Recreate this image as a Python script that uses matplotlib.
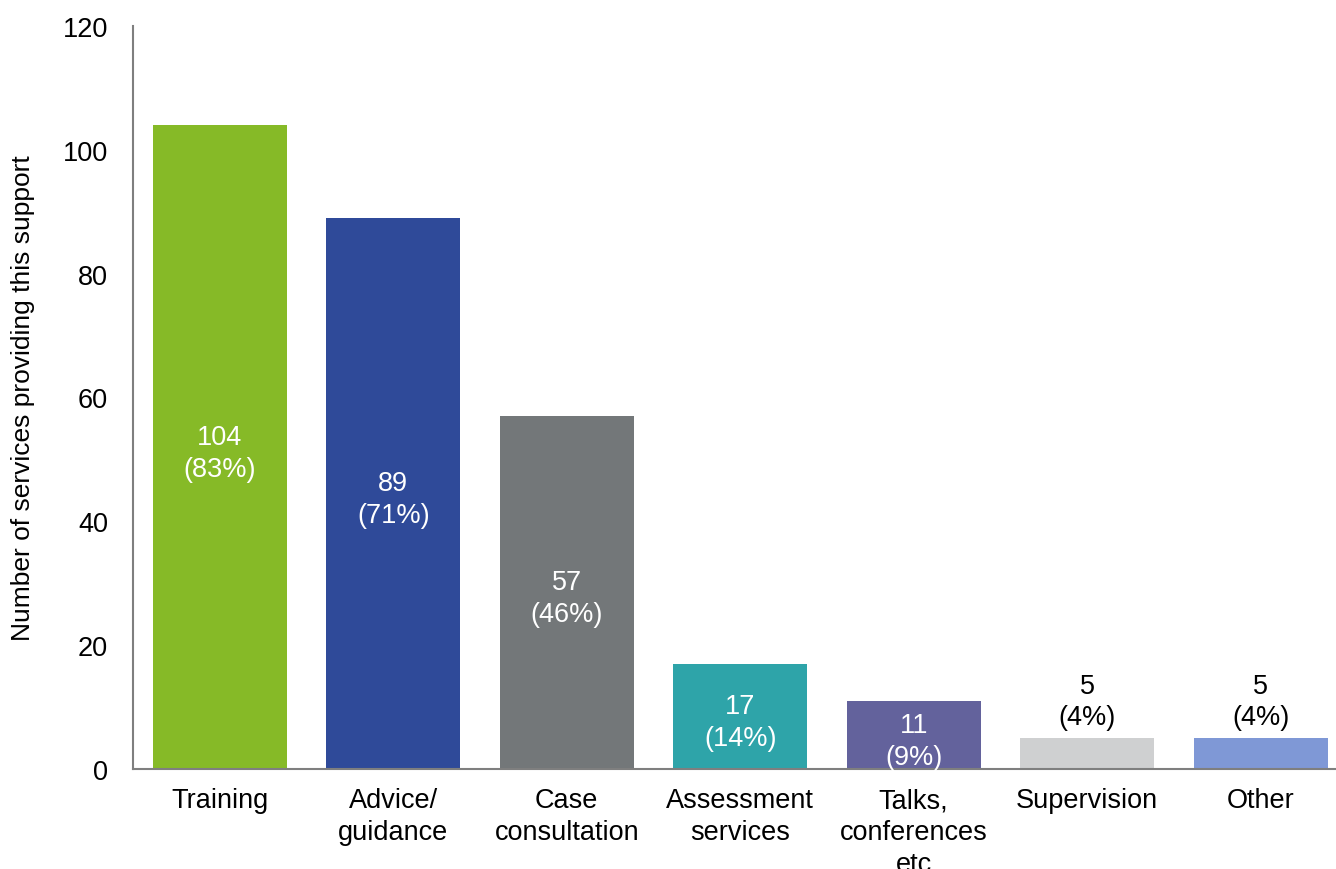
import matplotlib
matplotlib.use("Agg")
import matplotlib.pyplot as plt

categories = ["Training", "Advice/\nguidance", "Case\nconsultation", "Assessment\nservices",
              "Talks,\nconferences\netc", "Supervision", "Other"]
counts = [104, 89, 57, 17, 11, 5, 5]
percents = [83, 71, 46, 14, 9, 4, 4]
colors = ["#86BA27", "#2F4A99", "#737779", "#2EA4A9", "#63629C", "#CFD0D1", "#7F98D6"]
inside = [True, True, True, True, True, False, False]

FS = 19.5

plt.rcParams["font.family"] = ["Liberation Sans", "DejaVu Sans"]
plt.rcParams["font.size"] = FS

fig = plt.figure(figsize=(13.36, 8.7), dpi=100)
ax = fig.add_axes([133 / 1336, 100 / 870, 1214.5 / 1336, 743 / 870])

x = list(range(len(categories)))
bars = ax.bar(x, counts, width=0.772, color=colors)

for rect, n, p, ins in zip(bars, counts, percents, inside):
    cx = rect.get_x() + rect.get_width() / 2
    label = f"{n}\n({p}%)"
    if ins:
        # centred in the bar, nudged a touch below the middle
        ax.annotate(label, (cx, n / 2), xytext=(0, -4), textcoords="offset points",
                    ha="center", va="center", color="white", fontsize=FS,
                    linespacing=1.3)
    else:
        ax.annotate(label, (cx, n), xytext=(0, 6), textcoords="offset points",
                    ha="center", va="bottom", color="black", fontsize=FS,
                    linespacing=1.25)

ax.set_xlim(-0.5, len(categories) - 0.5)
ax.set_ylim(0, 120)
ax.set_yticks(range(0, 121, 20))
ax.set_xticks(x)
ax.set_xticklabels(categories, linespacing=1.3)

for side in ("top", "right"):
    ax.spines[side].set_visible(False)
for side in ("left", "bottom"):
    ax.spines[side].set_color("#7F7F7F")
    ax.spines[side].set_linewidth(1.5)

ax.tick_params(axis="y", length=0, pad=18, labelsize=FS)
ax.tick_params(axis="x", length=0, pad=13, labelsize=FS)

ax.set_ylabel("Number of services providing this support", fontsize=19)
ax.yaxis.set_label_coords(-0.0807, 0.5)

fig.savefig("out.png", dpi=100)
